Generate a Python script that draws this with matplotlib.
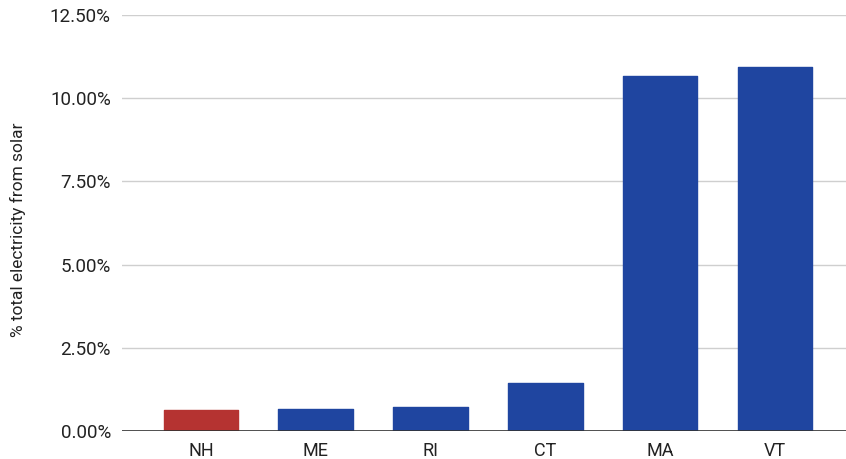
import matplotlib
matplotlib.use("Agg")
import matplotlib.pyplot as plt
from matplotlib.ticker import FuncFormatter

states = ["NH", "ME", "RI", "CT", "MA", "VT"]
solar_share = [0.62, 0.65, 0.73, 1.43, 10.66, 10.93]
bar_colors = ["#b53331", "#1f45a0", "#1f45a0", "#1f45a0", "#1f45a0", "#1f45a0"]
y_ticks = [0, 2.5, 5, 7.5, 10, 12.5]

plt.rcParams["font.family"] = ["Roboto", "DejaVu Sans"]

fig = plt.figure(figsize=(8.46, 4.59), dpi=100)
ax = fig.add_axes([122 / 846, 28 / 459, 724 / 846, 416 / 459])

x = range(len(states))
ax.bar(x, solar_share, width=0.65, color=bar_colors, edgecolor=bar_colors,
       linewidth=1, joinstyle="round", zorder=3)

# light grid, dark baseline
ax.set_ylim(0, 12.5)
ax.set_xlim(-0.688, 5.619)
ax.set_yticks(y_ticks)
ax.yaxis.set_major_formatter(FuncFormatter(lambda v, p: f"{v:.2f}%"))
ax.grid(axis="y", color="#cfcfcf", linewidth=1, zorder=0)
ax.axhline(0, color="#333333", linewidth=1.2, zorder=4)
for s in ax.spines.values():
    s.set_visible(False)

ax.set_xticks(list(x))
ax.set_xticklabels(states)
ax.tick_params(axis="both", length=0, colors="#222222")
ax.tick_params(axis="y", pad=8, labelsize=13.5)
ax.tick_params(axis="x", pad=8, labelsize=13)

fig.text(18 / 846, 0.5, "% total electricity from solar", rotation=90,
         ha="center", va="center", fontsize=12.5, color="#222222")

fig.savefig("out.png", dpi=100)
